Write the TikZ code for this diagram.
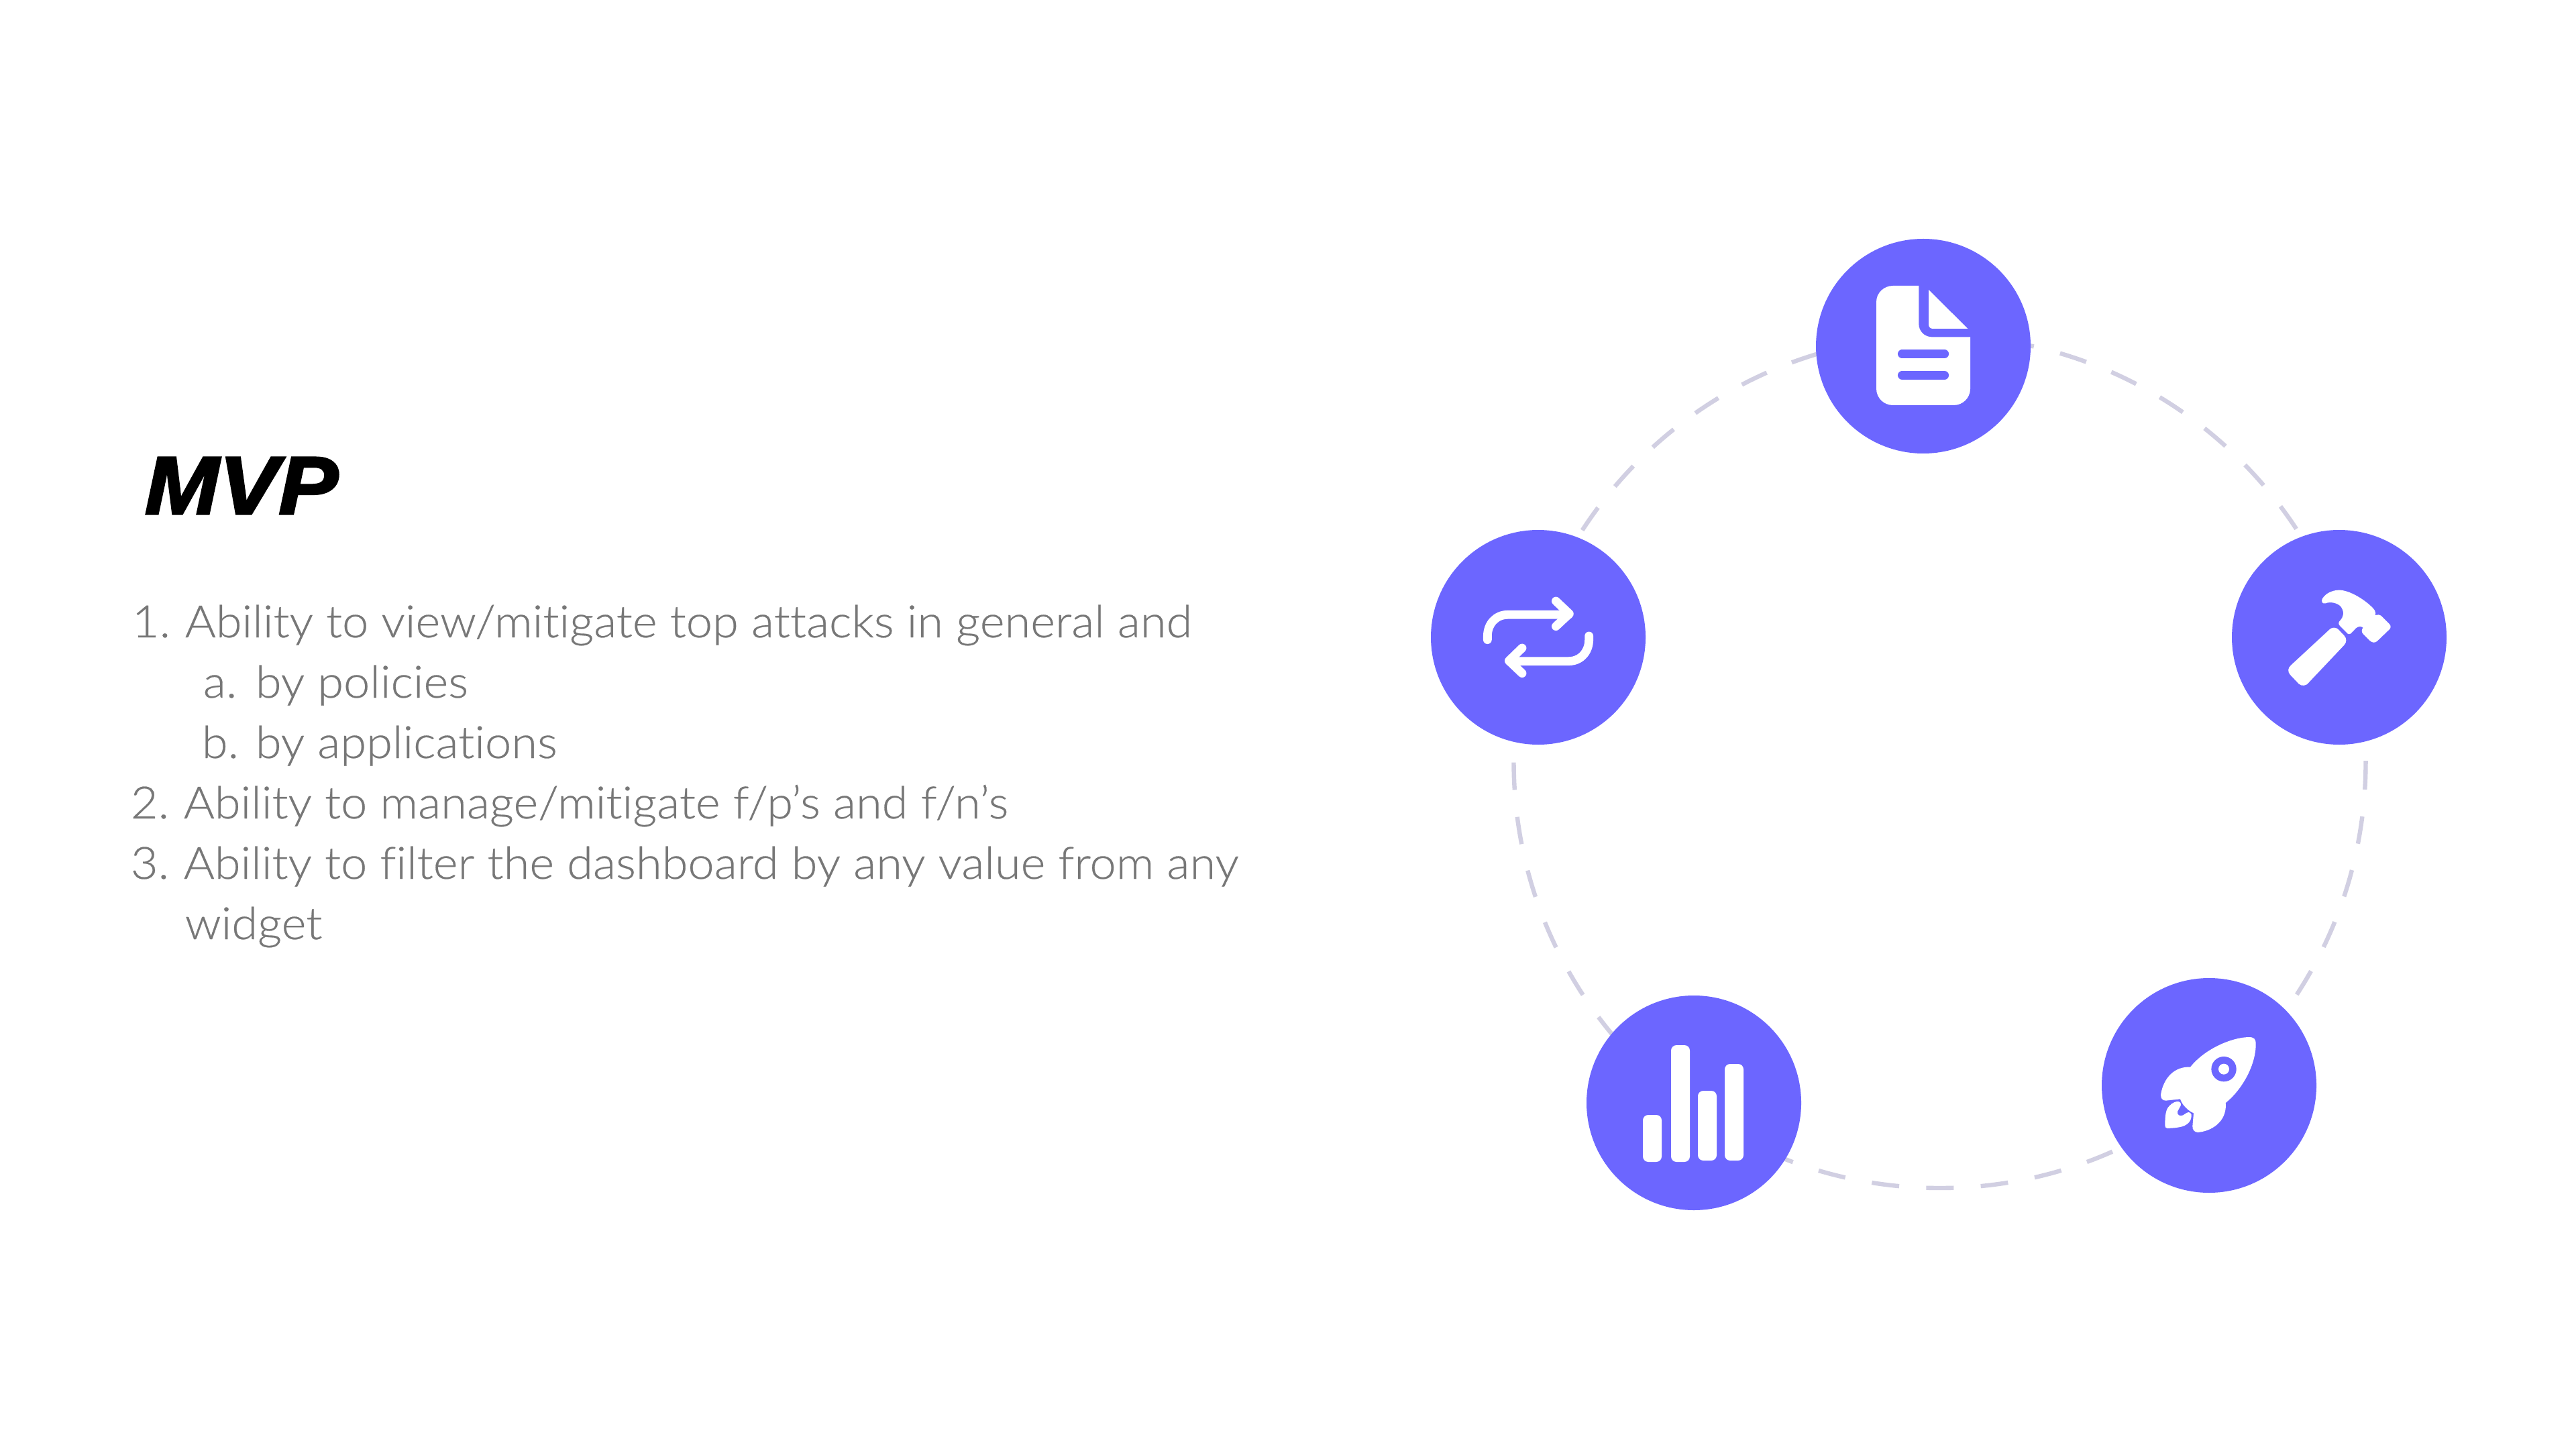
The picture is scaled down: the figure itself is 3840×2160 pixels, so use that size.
\documentclass[tikz,border=0pt]{standalone}
\usepackage{fontspec}
\setmainfont[FakeStretch=1.06,FakeBold=0.4,Ligatures={NoCommon}]{Lato Light}
\newfontfamily\titlefont[FakeBold=2.6,FakeStretch=1.09]{Liberation Sans Bold Italic}
\definecolor{disc}{HTML}{6C66FF}
\definecolor{ringc}{HTML}{D1CFE2}
\definecolor{bodyc}{HTML}{777777}
\tikzset{
  icondisc/.style={circle,fill=disc,draw=none,minimum size=80pt,inner sep=0pt},
  ringline/.style={draw=ringc,line width=1.6pt,dash pattern=on 10.25pt off 10.1pt},
  bodytext/.style={anchor=base west,inner sep=0pt,text=bodyc,font=\fontsize{16.6}{20}\selectfont},
  titletext/.style={anchor=base west,inner sep=0pt,text=black,font=\titlefont\fontsize{30.5}{36}\selectfont},
  glyph/.style={fill=white,draw=none},
  strokeW/.style={draw=white,line width=3.2pt,line cap=round,line join=round},
  strokeP/.style={draw=disc,line width=3.2pt,line cap=round},
  zoomed/.style={shift={#1},scale=1/3}
}
\begin{document}
\begin{tikzpicture}[x=0.25pt,y=-0.25pt]
\path[use as bounding box,fill=white] (0,0) rectangle (3840,2160);
% ring
\coordinate (ringcentre) at (2891.5,1136);
\draw[ringline] (ringcentre) circle [radius=635];
% discs
\node[icondisc] (doc) at (2867,516) {};
\node[icondisc] (hammer) at (3487,950) {};
\node[icondisc] (rocket) at (3293,1618) {};
\node[icondisc] (bars) at (2525,1644) {};
\node[icondisc] (swap) at (2293,950) {};
% document icon
\begin{scope}[zoomed={(2660,320)}]
\fill[glyph] (411,390) .. controls (411,350) and (445,318) .. (485,318) -- (601,318) -- (601,490)
  .. controls (601,522) and (627,547) .. (659,547) -- (831,547) -- (831,778)
  .. controls (831,820) and (797,852) .. (757,852) -- (485,852)
  .. controls (445,852) and (411,820) .. (411,778) -- cycle;
\fill[glyph] (645,336) -- (820,510) -- (663,510) .. controls (653,510) and (645,502) .. (645,492) -- cycle;
\draw[strokeP] (526,623) -- (716,623);
\draw[strokeP] (526,718) -- (716,718);
\end{scope}
% hammer icon
\begin{scope}[zoomed={(3300,760)}]
\fill[glyph] (345,695) -- (520,533) .. controls (530,525) and (545,525) .. (555,533) -- (583,562)
  .. controls (595,575) and (595,592) .. (583,605) -- (425,772)
  .. controls (415,788) and (392,790) .. (380,778) -- (342,738)
  .. controls (330,725) and (330,708) .. (345,695) -- cycle;
\fill[glyph] (485,398) .. controls (505,365) and (545,358) .. (565,359)
  .. controls (620,362) and (700,420) .. (720,450) .. controls (724,458) and (724,465) .. (722,472)
  .. controls (732,468) and (742,468) .. (750,475) -- (785,510)
  .. controls (793,518) and (793,530) .. (783,537) -- (733,585)
  .. controls (722,597) and (708,595) .. (698,585) -- (668,555)
  .. controls (660,547) and (660,535) .. (668,527)
  .. controls (655,518) and (645,522) .. (635,530) -- (618,548)
  .. controls (610,558) and (600,558) .. (595,550) -- (565,520)
  .. controls (555,510) and (558,502) .. (565,495)
  .. controls (580,478) and (585,460) .. (570,435)
  .. controls (555,415) and (520,410) .. (500,418)
  .. controls (485,422) and (480,410) .. (485,398) -- cycle;
\end{scope}
% rocket icon
\begin{scope}[zoomed={(3110,1440)}]
\fill[glyph] (465,452) .. controls (530,370) and (650,320) .. (725,318)
  .. controls (750,318) and (758,325) .. (758,350)
  .. controls (758,440) and (700,550) .. (623,612)
  .. controls (630,680) and (580,735) .. (500,744)
  .. controls (485,745) and (473,732) .. (475,715) -- (480,658)
  .. controls (460,650) and (430,625) .. (420,595) -- (355,602)
  .. controls (340,602) and (332,590) .. (333,575)
  .. controls (345,500) and (395,448) .. (465,452) -- cycle;
\fill[disc] (615,461) circle [radius=56];
\fill[glyph] (615,461) circle [radius=24];
\fill[glyph] (352,710) .. controls (352,670) and (355,640) .. (372,625)
  .. controls (385,610) and (405,603) .. (415,607)
  .. controls (425,612) and (425,622) .. (418,632) -- (408,650)
  .. controls (403,665) and (420,675) .. (433,667) -- (450,656)
  .. controls (462,650) and (472,660) .. (470,672)
  .. controls (468,700) and (445,715) .. (420,720)
  .. controls (395,725) and (375,725) .. (362,726)
  .. controls (355,725) and (352,720) .. (352,710) -- cycle;
\end{scope}
% bars icon
\begin{scope}[zoomed={(2350,1470)}]
\fill[glyph,rounded corners=2pt] (297,576) rectangle (381,786);
\fill[glyph,rounded corners=2pt] (423,264) rectangle (507,786);
\fill[glyph,rounded corners=2pt] (543,468) rectangle (627,780);
\fill[glyph,rounded corners=2pt] (663,348) rectangle (747,780);
\end{scope}
% swap icon
\begin{scope}[zoomed={(2110,760)}]
\draw[strokeW] (322,581) -- (322,565) .. controls (322,510) and (360,469) .. (412,469) -- (685,469);
\draw[strokeW] (628,408) -- (688,465) -- (628,521);
\draw[strokeW] (776,564) -- (776,580) .. controls (776,636) and (738,677) .. (685,677) -- (420,677);
\draw[strokeW] (477,618) -- (418,675) -- (477,731);
\end{scope}
% text
\node[titletext] (title) at (215,766) {MVP};
\node[bodytext] (n1) at (196,950) {1.};
\node[bodytext] (t1) at (275,950) {Ability to view/mitigate top attacks in general and};
\node[bodytext] (na) at (302,1040) {a.};
\node[bodytext] (ta) at (380,1040) {by policies};
\node[bodytext] (nb) at (300,1130) {b.};
\node[bodytext] (tb) at (380,1130) {by applications};
\node[bodytext] (n2) at (194,1220) {2.};
\node[bodytext] (t2) at (273,1220) {Ability to manage/mitigate f/p’s and f/n’s};
\node[bodytext] (n3) at (194,1310) {3.};
\node[bodytext] (t3) at (273,1310) {Ability to filter the dashboard by any value from any};
\node[bodytext] (t3b) at (275,1400) {widget};
\end{tikzpicture}
\end{document}
